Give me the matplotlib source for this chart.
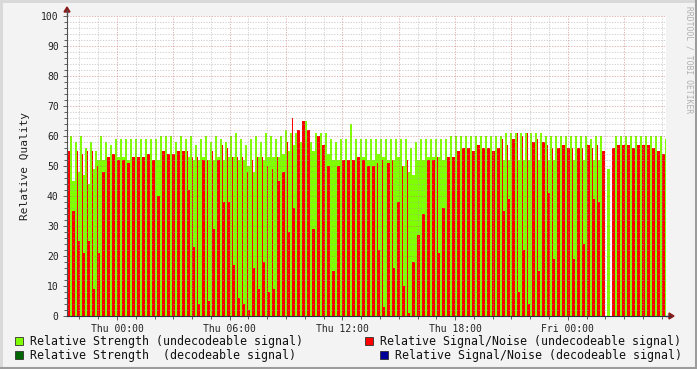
import matplotlib
matplotlib.use("Agg")
import matplotlib.pyplot as plt
from matplotlib.patches import Rectangle, Polygon
from matplotlib.lines import Line2D
import numpy as np

# time axis: hours relative to Thu 00:00, one sample every ~16 minutes
view_start = -2.662
view_end = 29.23
sample_step = 0.2662

# Relative Signal/Noise (undecodeable) - main bar per sample
snr = [55, 35, 25, 21, 25, 9, 21, 48, 53, 54,
       52, 52, 51, 53, 53, 53, 54, 52, 40, 55,
       54, 54, 55, 55, 42, 23, 4, 52, 5, 29,
       52, 38, 38, 17, 6, 4, 2, 16, 9, 18,
       8, 9, 45, 48, 28, 36, 62, 65, 62, 29,
       60, 57, 50, 15, 50, 52, 52, 52, 53, 52,
       50, 50, 22, 3, 51, 16, 38, 10, 1, 18,
       27, 34, 52, 52, 21, 36, 53, 53, 55, 56,
       56, 55, 57, 56, 56, 55, 56, 35, 39, 59,
       8, 22, 4, 58, 15, 58, 41, 19, 56, 57,
       56, 19, 56, 24, 57, 39, 38, 55, 0, 56,
       57, 57, 57, 56, 57, 57, 57, 56, 55, 54]

# thin tall SNR peaks inside a sample slot
peak_idx = [2, 3, 4, 5, 6, 24, 25, 26, 28, 29, 31, 32, 33, 34, 35, 36, 37, 38, 39,
            40, 41, 42, 44, 45, 62, 63, 65, 67, 68, 74, 87, 88, 90, 91, 92, 94, 96,
            97, 101, 103, 105, 106]
peak_val = [55, 54, 55, 55, 50, 55, 53, 53, 52, 55, 57, 56, 53, 53, 53, 48, 52, 53, 53,
            50, 49, 53, 58, 66, 51, 52, 52, 50, 52, 53, 59, 57, 61, 60, 61, 59, 57,
            56, 56, 56, 56, 57]

# Relative Strength (undecodeable) - spike level and level under the SNR bar
strength = [60, 58, 60, 56, 58, 55, 60, 58, 57, 59,
            59, 59, 59, 59, 59, 59, 59, 59, 60, 60,
            60, 58, 60, 59, 60, 57, 59, 60, 58, 60,
            59, 58, 60, 61, 59, 57, 59, 60, 58, 61,
            60, 59, 60, 62, 61, 61, 58, 65, 58, 61,
            61, 61, 59, 58, 59, 59, 64, 59, 59, 59,
            59, 59, 59, 59, 59, 59, 59, 59, 56, 58,
            59, 59, 59, 59, 59, 59, 60, 60, 60, 60,
            60, 60, 60, 60, 60, 60, 60, 61, 61, 61,
            61, 61, 61, 61, 61, 60, 60, 60, 60, 60,
            60, 60, 60, 60, 59, 60, 60, 0, 0, 60,
            60, 60, 60, 60, 60, 60, 60, 60, 60, 59]
strength_low = [50, 45, 48, 47, 44, 49, 52, 52, 53, 53,
                53, 53, 52, 53, 53, 52, 53, 52, 52, 53,
                53, 53, 53, 53, 53, 52, 52, 53, 52, 52,
                53, 52, 53, 53, 52, 52, 50, 48, 53, 52,
                53, 53, 53, 54, 55, 57, 55, 55, 56, 55,
                56, 55, 54, 52, 52, 52, 52, 52, 53, 53,
                52, 52, 54, 53, 52, 52, 53, 50, 48, 47,
                52, 52, 53, 53, 53, 52, 53, 53, 54, 54,
                52, 52, 52, 52, 52, 52, 52, 52, 52, 52,
                52, 52, 52, 52, 52, 52, 52, 52, 52, 52,
                52, 52, 52, 52, 52, 52, 52, 52, 49, 52,
                52, 52, 52, 52, 52, 52, 52, 52, 52, 52]

x_tick_hours = [0, 6, 12, 18, 24]
x_tick_labels = ["Thu 00:00", "Thu 06:00", "Thu 12:00", "Thu 18:00", "Fri 00:00"]
y_ticks = list(range(0, 101, 10))

legend_items = [
    ("Relative Strength (undecodeable signal)", "#80FF00"),
    ("Relative Signal/Noise (undecodeable signal)", "#FF0000"),
    ("Relative Strength  (decodeable signal)", "#006600"),
    ("Relative Signal/Noise (decodeable signal)", "#000099"),
]

GREEN = "#80FF00"
RED = "#FF0000"
MONO = "DejaVu Sans Mono"
W, H = 697, 369

fig = plt.figure(figsize=(W / 100, H / 100), dpi=100)
fig.patch.set_facecolor("#F3F3F3")

ax = fig.add_axes([67 / W, 53 / H, 599 / W, 300 / H])
ax.set_facecolor("white")
ax.set_xlim(view_start, view_end)
ax.set_ylim(0, 100)

t = view_start + sample_step * np.arange(len(snr))
w_red = sample_step * 0.55
ax.bar(t, strength_low, width=w_red, align="edge", color=GREEN, linewidth=0, zorder=2)
ax.bar(t + w_red, strength, width=sample_step - w_red, align="edge", color=GREEN, linewidth=0, zorder=2)
ax.bar(t, snr, width=w_red, align="edge", color=RED, linewidth=0, zorder=3)
ax.bar(t[peak_idx], peak_val, width=sample_step * 0.2, align="edge", color=RED, linewidth=0, zorder=3)

# rrdtool style dotted grid drawn over the data
dots = (0, (1.4, 1.4))
for y in range(2, 101, 2):
    major = y % 10 == 0
    ax.axhline(y, color="#C06060" if major else "#A0A0A0", alpha=0.45, lw=0.7,
               ls=dots, zorder=5)
for h in range(-2, 30):
    major = h % 3 == 0
    ax.axvline(h, color="#C06060" if major else "#A0A0A0", alpha=0.45, lw=0.7,
               ls=dots, zorder=5)

ax.set_yticks(y_ticks)
ax.set_yticklabels([str(v) for v in y_ticks], family=MONO, fontsize=7, color="#222222")
ax.set_yticks(range(0, 101, 2), minor=True)
ax.set_xticks(x_tick_hours)
ax.set_xticklabels(x_tick_labels, family=MONO, fontsize=7, color="#222222")
ax.set_xticks(range(-2, 30), minor=True)
ax.tick_params(which="both", color="#606060", width=0.7)
ax.tick_params(which="major", length=3, pad=3)
ax.tick_params(which="minor", length=2)
for s in ["top", "right"]:
    ax.spines[s].set_visible(False)
ax.spines["left"].set_color("#505050")
ax.spines["bottom"].set_color("#303040")
ax.spines["left"].set_zorder(6)
ax.spines["bottom"].set_zorder(6)

ax.set_ylabel("Relative Quality", family=MONO, fontsize=8, color="#222222", labelpad=8)

def fx(x):
    return x / W

def fy(y):
    return 1 - y / H

# axis extensions with arrows
fig.add_artist(Line2D([fx(67), fx(67)], [fy(16), fy(10)], color="#505050", lw=1))
fig.add_artist(Line2D([fx(666), fx(670)], [fy(316), fy(316)], color="#303040", lw=1))
fig.add_artist(Polygon([[fx(64), fy(12)], [fx(70), fy(12)], [fx(67), fy(7)]],
                       closed=True, color="#8B1A1A"))
fig.add_artist(Polygon([[fx(669), fy(313)], [fx(669), fy(319)], [fx(674), fy(316)]],
                       closed=True, color="#8B1A1A"))

# legend
legend_pos = [(15, 341), (365, 341), (15, 355), (380, 355)]
for (label, col), (lx, ly) in zip(legend_items, legend_pos):
    fig.add_artist(Rectangle((fx(lx), fy(ly + 4)), 8 / W, 8 / H, facecolor=col,
                             edgecolor="#303030", lw=0.6))
    fig.text(fx(lx + 15), fy(ly), label, family=MONO, fontsize=8.4, color="#111111",
             va="center", ha="left")

fig.text(fx(689), fy(60), "RRDTOOL / TOBI OETIKER", rotation=270, family=MONO,
         fontsize=5.8, color="#B0B0B0", ha="center", va="center")

# frame
fig.add_artist(Line2D([0, 1], [fy(1), fy(1)], color="#D8D8D8", lw=2))
fig.add_artist(Line2D([fx(1), fx(1)], [0, 1], color="#D8D8D8", lw=2))
fig.add_artist(Line2D([0, 1], [fy(367.5), fy(367.5)], color="#9C9C9C", lw=2.2))
fig.add_artist(Line2D([fx(695.5), fx(695.5)], [0, 1], color="#9C9C9C", lw=2.2))

fig.savefig("out.png", dpi=100, facecolor=fig.get_facecolor())
